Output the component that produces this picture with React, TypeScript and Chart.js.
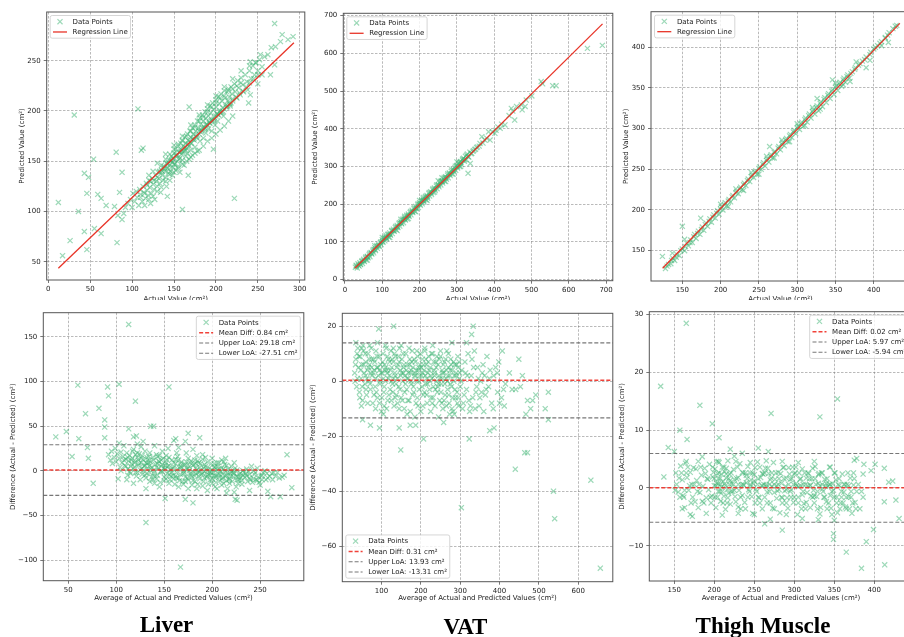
import React, { useEffect, useRef } from "react";
import { Chart, registerables } from "chart.js";
Chart.register(...registerables);

type Pt = [number, number];

// ---------------- DATA ----------------
const liverScatter: Pt[] = [
  [12,109],[17,56],[26,71],[31,196],[36,100],[43,138],[43,80],[46,118],[46,62],[48,134],[54,152],[55,83],[59,117],[63,113],[63,78],[69,106],[81,159],[82,69],[88,139],[85,119],[79,105],[88,92],[83,96],[90,98],[92,104],
  [107,202],[111,161],[113,163],[142,115],[160,102],[167,136],[168,204],[197,162],[222,113],[239,208],[241,216],[250,227],[255,236],[265,236],[270,246],[270,287],[279,276],[286,271],[292,274],[266,263],[271,264],[262,256],[253,256],[247,248],[241,249],[277,269],
  [95,108],[98,112],[100,104],[101,118],[103,110],[105,120],[106,114],[108,106],[109,122],[110,117],[112,110],[113,125],[114,119],[116,113],[117,128],[118,121],[119,116],[120,131],[121,124],[122,108],[123,118],[124,133],[125,127],[126,122],[127,112],[128,136],[129,130],[130,125],[131,139],[132,133],[133,128],[134,119],[135,141],[136,136],[137,131],[138,145],[139,140],[140,134],[141,148],[141,125],[142,143],[143,138],[144,151],[145,146],[145,131],[146,140],[147,155],[148,149],[148,136],[149,144],[150,158],[150,152],[151,147],[152,141],[152,162],[153,156],[154,150],[155,145],[155,165],[156,159],[157,153],[157,139],[158,168],[158,162],[159,157],[160,151],[160,171],[161,165],[162,160],[162,146],[163,174],[164,168],[164,155],[165,163],[166,177],[166,158],[167,171],[168,165],[168,152],[169,180],[170,174],[170,161],[171,168],[172,183],[172,156],[173,177],[174,171],[175,186],[175,164],[176,180],[177,174],[178,190],[178,160],[179,183],[180,177],[181,193],[181,170],[182,187],[183,180],[184,196],[185,190],[185,173],[186,184],[187,199],[188,193],[188,178],[189,187],[190,202],[191,195],[191,182],[192,189],[193,205],[194,198],[195,191],[195,180],[196,208],[197,201],[198,194],[199,186],[200,211],[200,204],[201,197],[202,190],[203,214],[204,207],[205,200],[206,217],[207,210],[208,203],[209,195],[210,220],[211,213],[212,206],[213,219],[214,210],[215,222],[216,214],[217,205],[218,224],[219,217],[220,210],[222,227],[223,219],[225,213],[226,230],[227,223],[229,216],[230,233],[232,226],[233,219],[235,236],[237,229],[238,221],[240,240],[242,232],[244,245],[246,236],[248,248],[250,240],[252,251],[255,244],[258,254],
  [110,114],[115,118],[118,126],[122,130],[126,131],[130,134],[133,140],[136,140],[139,143],[142,147],[144,142],[146,150],[148,153],[150,147],[152,155],[154,157],[156,152],[158,160],[160,160],[162,163],[164,161],[166,166],[168,170],[170,168],[172,172],[174,173],[176,174],[178,176],[180,180],[182,179],[184,183],[186,182],[188,186],[190,186],[192,188],[194,190],[196,190],[198,192],[200,195],[202,197],[204,199],[206,198],[208,200],[210,202],[212,204],[214,205],[216,207],[218,208],[220,212],[224,214],[228,218],[232,220],[236,224],[240,228],[245,232],[250,236],
  [140,152],[150,162],[160,170],[170,180],[180,190],[190,199],[200,208],[210,215],[220,222],[230,228],[135,146],[145,157],[155,167],[165,175],[175,184],[185,194],[195,204],[205,213],[215,220],[225,225]
];
const liverScatterCore: Pt[] = [
  [145,137],[150,139],[155,143],[160,147],[165,150],[170,154],[175,158],[180,161],[185,165],[190,170],[195,173],[200,177],[205,181],[210,185],[215,190],[220,195],[130,120],[135,124],[140,130],[125,115],[120,112],[115,106],
  [130,148],[140,157],[150,166],[160,175],[170,186],[180,196],[190,206],[200,215],[210,224],[220,232],[230,240],[240,245],[125,140],[120,136],
  [133,139],[137,143],[143,148],[147,151],[153,156],[157,159],[163,164],[167,167],[173,172],[177,175],[183,181],[187,183],[193,188],[197,191],[203,196],[207,199],[213,204],[217,207]
];
const liverRegX = [12, 293];
const liverRegY = [43.4, 267.9];

const vatScatter: Pt[] = [
  [690,621],[650,613],[566,514],[557,514],[530,519],[526,525],[501,487],[486,476],[483,459],[475,450],[473,463],[455,423],[446,454],[460,459],[330,282],[336,308],[389,370],[402,388],[416,401],[385,392],[367,379],[429,410],[362,361],
  [28,33],[30,38],[33,31],[35,42],[38,36],[40,45],[42,40],[45,48],[47,43],[50,54],[52,48],[55,57],[57,52],[60,62],[62,58],[65,66],[67,61],[70,72],[72,68],[75,76],[77,71],[80,85],[82,77],[85,88],[87,83],[90,94],[92,88],[95,98],[97,93],[100,106],[102,99],[105,109],[107,103],[110,114],[112,108],[115,119],[117,113],[120,124],[122,118],[125,129],[127,122],[130,134],[132,128],[135,138],[137,132],[140,144],[142,138],[145,148],[147,142],[150,154],[152,148],[155,158],[157,151],[160,164],[162,158],[165,168],[167,161],[170,174],[172,168],[175,178],[177,172],[180,184],[182,178],[185,188],[187,181],[190,194],[192,188],[195,198],[197,191],[200,204],[202,197],[205,208],[207,201],[210,214],[212,206],[215,218],[217,212],[220,223],[222,216],[225,228],[227,222],[230,233],[232,226],[235,238],[237,231],[240,243],[242,236],[245,248],[247,241],[250,252],[252,246],[255,257],[257,251],[260,262],[262,256],[265,267],[267,261],[270,273],[272,266],[275,277],[277,270],[280,283],[282,276],[285,287],[287,280],[290,293],[292,286],[295,297],[297,290],[300,303],[302,296],[305,308],[307,300],[310,313],[312,305],[315,317],[318,322],[320,314],[323,327],[325,318],[328,333],[332,325],[335,338],[340,335],[345,342],[350,346],[355,352],[360,354],[370,362],[375,370],[380,375],[395,392],[405,396],[410,405],[420,412],[440,435],[450,447],
  [31,36],[36,38],[41,41],[46,50],[51,50],[56,60],[61,60],[66,70],[71,70],[76,80],[81,80],[86,90],[91,90],[96,100],[101,101],[106,111],[111,110],[116,121],[121,120],[126,131],[131,130],[136,141],[141,140],[146,151],[151,150],[156,161],[161,160],[166,171],[171,170],[176,181],[181,180],[186,191],[191,190],[196,201],[201,200],[206,211],[211,210],[216,221],[221,220],[226,231],[231,230],[236,241],[241,240],[246,251],[251,250],[256,261],[261,260],[266,271],[271,270],[276,281],[281,280],[286,291],[291,290],[296,301],[301,300],[306,311],[311,310],[316,320],[321,318],[326,330],[330,326],[338,334],[343,340],[348,345],[353,350],
  [100,112],[150,160],[200,210],[250,262],[300,312],[120,112],[170,162],[220,210],[270,260],[310,300],[80,90],[60,52],[140,130],[190,180],[240,232],[290,280],[260,270],[210,218],[160,168],[110,118]
];
const vatRegX = [26.5, 690.5];
const vatRegY = [30.1, 677.9];

const thighScatter: Pt[] = [
  [124,143],[137,147],[150,180],[174,190],[153,164],[264,278],[326,337],[346,360],[390,375],[410,402],[419,406],[415,411],[395,384],[377,382],[369,358],
  [128,128],[132,133],[135,134],[138,140],[140,138],[143,145],[146,144],[150,152],[153,150],[156,159],[158,156],[161,163],[163,160],[166,170],[168,165],[171,174],[173,170],[176,179],[178,175],[181,184],[183,180],[186,189],[188,185],[191,194],[193,190],[196,199],[198,195],[201,204],[203,200],[206,209],[208,205],[211,213],[213,210],[216,218],[218,215],[221,223],[223,220],[226,228],[228,225],[231,233],[233,230],[236,238],[238,235],[241,243],[243,240],[246,248],[248,244],[251,253],[253,250],[256,258],[258,254],[261,263],[263,259],[266,268],[268,264],[271,272],[273,269],[276,278],[278,274],[281,283],[283,279],[286,288],[288,284],[291,293],[293,289],[296,298],[298,294],[301,303],[303,299],[306,308],[308,303],[311,313],[313,308],[316,318],[318,313],[321,323],[323,318],[326,328],[328,322],[331,333],[333,327],[336,338],[338,332],[341,343],[343,337],[346,348],[348,342],[351,353],[353,347],[356,357],[358,352],[361,362],[363,357],[366,366],[368,362],[372,370],[376,375],[380,378],[385,383],[390,388],[396,394],[400,398],[405,402],[410,407],[415,412],[420,418],[425,423],[430,427],
  [130,131],[136,138],[142,142],[148,150],[154,155],[160,160],[165,167],[170,171],[175,176],[180,182],[185,186],[190,191],[195,196],[200,201],[205,206],[210,211],[215,216],[220,221],[225,226],[230,231],[235,236],[240,241],[245,246],[250,251],[255,256],[260,261],[265,266],[270,271],[275,276],[280,281],[285,286],[290,291],[295,296],[300,301],[305,306],[310,311],[315,316],[320,321],[325,326],[330,331],[335,336],[340,341],[345,346],[350,351],[355,355],[360,360],[365,364],[370,368],[375,373],[382,380],[388,385],[395,391],[402,400],[408,405],[418,415],[428,426],
  [200,207],[220,226],[240,246],[260,266],[280,286],[300,306],[320,326],[210,204],[230,224],[250,244],[270,264],[290,284],[310,304],[330,324],[350,356],[360,354]
];
const thighRegX = [124.3, 434];
const thighRegY = [128.3, 429.5];

const liverBA: Pt[] = [
  [37,38],[48,44],[60,96],[54,16],[61,36],[68,64],[70,26],[71,14],[76,-14],[82,70],[88,57],[88,49],[88,37],[91,94],[92,84],[103,97],[103,31],[113,164],[120,78],[113,47],[121,39],[128,33],[136,50],[139,50],[155,94],[175,42],[187,37],[162,36],[131,-58],[167,-108],[131,-20],[151,-31],[172,-32],[180,-36],[118,-14],[224,-32],[226,-33],[239,-22],[258,-23],[261,-29],[271,-29],[283,-19],[278,18],[252,-10],[246,-10],[275,-5],[264,-2],[102,-9],[111,-10],[184,17],
  [92,18],[94,12],[95,22],[96,8],[98,15],[99,25],[100,10],[101,19],[103,14],[104,4],[105,21],[106,9],[107,16],[108,28],[109,6],[110,13],
  [111,20],[112,2],[113,11],[114,17],[115,-3],[116,8],[117,14],[118,24],[119,4],[120,10],[121,-6],[122,15],[123,6],[124,19],[125,1],[126,9],[127,-4],[128,13],[129,5],[130,22],[131,-8],[132,8],[133,2],[134,16],[135,-2],[136,10],[137,4],[138,-10],[139,12],[140,0],[141,7],[142,18],[143,-5],[144,3],[145,10],[146,-13],[147,5],[148,-1],[149,14],[150,-7],[151,2],[152,9],[153,-3],[154,25],[155,6],[156,-10],[157,1],[158,12],[159,-5],[160,4],[161,-15],[162,8],[163,-2],[164,16],[165,-8],[166,3],[167,-4],[168,10],[169,-12],[170,0],[171,6],[172,-7],[173,20],[174,2],[175,-10],[176,5],[177,-3],[178,11],[179,-16],[180,-1],[181,7],[182,-6],[183,3],[184,-20],[185,-2],[186,9],[187,-9],[188,1],[189,-4],[190,13],[191,-12],[192,-1],[193,5],[194,-7],[195,0],[196,-15],[197,3],[198,-5],[199,8],[200,-9],[201,-2],[202,4],[203,-18],[204,-6],[205,1],[206,-3],[207,9],[208,-11],[209,-1],[210,3],[211,-8],[212,-14],[213,0],[214,14],[215,-5],[216,-20],[217,2],[218,-9],[219,-3],[220,5],[221,-12],[222,-2],[223,-24],[225,-6],[226,1],[228,-10],[229,-3],[231,-15],[232,0],[234,-7],[236,2],[237,-12],[239,-4],[241,5],[243,-9],[245,-2],[247,3],[249,-13],[252,-5],[255,0],[258,-8],[262,-3],[266,-6],
  [118,38],[122,30],[126,27],[140,28],[148,22],[160,34],[165,26],[172,33],[180,24],[190,18],[200,14],[210,12],
  [110,5],[112,15],[114,-1],[116,12],[118,3],[120,18],[122,-2],[124,8],[126,14],[128,0],[130,6],[132,-3],[134,9],[136,2],[138,15],[140,-6],[142,4],[144,11],[146,-1],[148,7],[150,3],[152,-9],[154,5],[156,1],[158,-2],[160,9],[162,-6],[164,2],[166,-11],[168,4],[170,-3],[172,7],[174,-8],[176,0],[178,-5],[180,6],[182,-12],[184,1],[186,-6],[188,8],[190,-3],[192,-8],[194,2],[196,-4],[198,-10],[200,1],[202,-5],[204,-13],[206,5],[208,-4],[210,-9],[212,2],[214,-6],[216,-2],[218,-14],[220,-1],[222,-7],[224,3],[226,-10],[228,-4],[230,-8],[233,-2],[236,-6],[240,-10],[244,-4],[248,-7],[253,-2],[256,-10],[260,-6],[270,-8],
  [125,-10],[135,-12],[145,-18],[155,-14],[165,-18],[175,-20],[185,-15],[195,-22],[205,-20],[215,-25],[225,-18],[135,20],[145,17],[155,15],[165,12],[175,14],[185,11],[195,10],[205,9],[215,6],
  [105,0],[108,12],[112,-5],[117,22],[122,20],[127,17],[132,15],[137,-7],[142,-9],[147,12],[152,17],[157,-6],[162,13],[167,8],[172,-12],[177,9],[182,12],[187,4],[192,7],[197,-1],[202,8],[207,-7],[212,10],[217,-10],[222,0],[227,-14],[232,-5],[238,-1],[242,-13],[250,-16]
];
const liverBACore: Pt[] = [
  [115,5],[119,9],[123,12],[127,3],[131,9],[135,6],[139,-3],[143,8],[147,0],[151,6],[155,-4],[159,3],[163,-8],[167,5],[171,-2],[175,3],[179,-7],[183,-3],[187,-1],[191,3],[195,-6],[199,-2],[203,-8],[207,2],[211,-4],[215,-11],[219,-6],[223,-3],[227,-7],[231,-11],[235,-3],[239,-8],[243,0],[247,-11],[251,-6],[257,-3],[263,-10],[268,-2],[273,-7],
  [120,-2],[130,-5],[140,-14],[150,-11],[160,-9],[170,-15],[180,-11],[190,-17],[200,-14],[210,-16],[133,12],[143,16],[153,12],[163,20],[173,10],[183,8],[193,15],[203,4],[213,7],[223,9]
];
const liverStats = [0.84, 29.18, -27.51]; // mean diff, upper LoA, lower LoA

const vatBA: Pt[] = [
  [131,20],[93,19],[333,20],[329,17],[316,14],[149,-25],[207,-21],[323,-21],[303,-46],[440,-32],[464,-26],[471,-26],[537,-40],[540,-50],[632,-36],[656,-68],[375,-18],[386,-17],[449,8],[458,2],[441,-3],[453,-2],[471,-7],[484,-7],[492,-5],[479,-10],[467,-12],[516,-10],[524,-14],[524,-4],[398,7],[407,11],[400,-8],[412,-9],[52,-14],[72,-16],[95,-17],[145,-17],[173,-16],[187,-16],[258,-15],[107,-9],[35,14],[279,14],
  [32,3],[35,8],[37,-2],[40,12],[42,5],[44,-4],[46,9],[48,1],[50,6],[52,-7],[54,11],[56,3],[58,-1],[60,7],[62,-5],[64,4],[66,10],[68,0],[70,6],[72,-3],[74,12],[76,2],[78,-8],[80,8],[82,4],[84,-2],[86,11],[88,5],[90,-6],[92,2],[94,9],[96,-1],[98,6],[100,-11],
  [102,3],[104,10],[106,-4],[108,6],[110,0],[112,12],[114,4],[116,-7],[118,8],[120,2],[122,-3],[124,11],[126,5],[128,-1],[130,7],[132,-9],[134,3],[136,9],[138,-5],[140,1],[142,6],[144,-2],[146,12],[148,4],[150,-6],[152,8],[154,0],[156,5],[158,-10],[160,2],[162,10],[164,-3],[166,6],[168,1],[170,-7],[172,8],[174,3],[176,-1],[178,11],[180,5],[182,-4],[184,2],[186,7],[188,-8],[190,0],[192,9],[194,4],[196,-3],[198,6],[200,-11],
  [202,2],[204,8],[206,-5],[208,4],[210,11],[212,-1],[214,6],[216,-8],[218,3],[220,9],[222,-3],[224,5],[226,-6],[228,1],[230,10],[232,-2],[234,4],[236,-9],[238,7],[240,0],[242,-4],[244,6],[246,2],[248,-7],[250,9],[252,-1],[254,4],[256,-10],[258,3],[260,7],[262,-5],[264,1],[266,11],[268,-3],[270,5],[272,-8],[274,2],[276,8],[278,-2],[280,4],[282,-11],[284,0],[286,6],[288,-6],[290,3],[292,-4],[294,9],[296,-9],[298,1],[300,-2],
  [304,4],[308,-8],[312,7],[316,-3],[320,10],[324,-11],[328,2],[332,-6],[336,11],[340,-4],[344,5],[348,-9],[352,0],[356,3],[360,-11],[364,-5],[368,9],[372,-2],[376,4],[380,-8],[385,2],[390,5],[395,-4],[405,-6],[415,-1],[425,3],[432,-3],
  [60,2],[75,5],[85,1],[95,4],[105,1],[115,3],[125,0],[135,2],[145,7],[155,3],[165,1],[175,4],[185,3],[195,0],[205,3],[215,1],[225,2],[235,3],[245,-1],[255,1],[265,4],[275,-1],[285,2],[295,5],
  [34,6],[39,1],[43,9],[47,4],[51,-2],[55,6],[59,10],[63,1],[67,5],[71,-1],[75,8],[79,3],[83,7],[87,-4],[91,5],[95,-8],[99,3],[103,7],[107,-2],[111,5],[115,9],[119,-5],[123,4],[127,8],[131,1],[135,-6],[139,5],[143,9],[147,-3],[151,3],[155,10],[159,-4],[163,4],[167,-7],[171,6],[175,0],[179,-5],[183,8],[187,2],[191,-6],[195,5],[199,10],[203,-2],[207,6],[211,2],[215,-5],[219,7],[223,0],[227,10],[231,-6],[235,2],[239,5],[243,-2],[247,8],[251,-4],[255,3],[259,-7],[263,8],[267,0],[271,-5],[275,4],[279,-10],[283,7],[287,-3],[291,6],[295,-6],[299,3],
  [310,-5],[318,2],[326,-9],[334,5],[342,-2],[350,-6],[358,6],[366,-3],[374,1],[384,-10],[394,3],[410,-3],
  [45,-6],[65,-8],[85,-10],[105,-12],[125,-7],[145,-10],[165,-12],[185,-13],[205,-9],[225,-11],[245,-13],[265,-9],[285,-12],
  [50,12],[70,13],[90,14],[110,13],[130,12],[150,13],[170,12],[190,11],[210,12],[230,13],[250,11],[270,10]
];
const vatBACore: Pt[] = [
  [33,0],[38,10],[49,-9],[53,13],[61,-3],[69,8],[73,3],[81,-5],[89,9],[97,0],[101,-6],[109,4],[113,-10],[117,1],[121,7],[129,-4],[133,10],[137,-1],[141,-8],[149,2],[153,-7],[157,6],[161,-1],[169,3],[173,-11],[177,7],[181,-2],[189,4],[193,-9],[197,2],[201,5],[209,-4],[213,8],[217,-1],[221,4],[229,-8],[233,7],[237,-3],[241,9],[249,1],[253,-8],[257,6],[261,-1],[269,2],[273,-12],[277,6],[281,-6],[289,2],[293,-8],[297,7],[302,0],[306,-10],[314,3],[322,-7],[330,8],[338,-10],[346,1],[354,-4],[362,2]
];
const vatStats = [0.31, 13.93, -13.31];

const thighBA: Pt[] = [
  [165,28.5],[133,17.6],[182,14.3],[157,10],[166,8.4],[197.5,11.1],[206,8.7],[271,12.9],[332,12.3],[354,15.4],[137,1.9],[142.5,7],[150,6.3],[365,-11.1],[384,-13.9],[413,-13.3],[390,-9.3],[349,-7.9],[349,-8.9],[285,-7.3],[263,-6.2],[163,-3.4],[172.5,-4.9],[399,-7.2],[412.5,-2.4],[427,-2.1],[431,-5.3],[418,1],[423,1.2],[412.5,3.4],[401,4.1],[387,4.1],[378,5.1],[375,4.8],[386,2.4],[396,3],[220,6.7],[235,6],[255,6.9],[267.5,6.3],
  [152,2.6],[155,-0.7],[158,3.8],[160,1.4],[162,-1.6],[164,4.3],[166,1.8],[168,-0.4],[170,2.7],[172,0.6],[174,3.5],[176,-2.4],[178,1.3],[180,4.6],[182,-0.8],[184,2.2],[186,0.3],[188,3.4],[190,-1.7],[192,1.5],[194,4.1],[196,-2.6],[198,1.9],[200,0.4],[201,3.3],[202,-3.4],[203,0.8],[204,2.5],[205,-0.6],[206,4.4],[207,1.6],[208,-2.3],[209,0.2],[210,3.6],[211,1.2],[212,-1.4],[213,2.8],[214,-3.7],[215,1.7],[216,-0.3],[217,4.7],[218,-0.9],[219,2.4],[220,-2.8],[222,0.7],[224,3.2],[226,-1.5],[228,1.6],[230,-3.3],[232,4.2],[234,0.5],[236,2.6],[238,-2.5],[240,0.9],[242,3.7],[244,-0.6],[246,1.4],[248,-4.4],[250,2.3],[252,-0.2],[254,4.5],[256,-1.7],[258,1.8],[260,-3.6],[262,0.6],[264,3.4],[266,-0.7],[268,2.5],[270,-2.6],[272,0.3],[274,4.4],[276,1.5],[278,-1.8],[280,2.7],[282,-4.3],[284,0.8],[286,3.5],[288,-0.5],[290,1.7],[292,-3.5],[294,2.4],[296,-0.3],[298,3.6],[300,-1.6],[302,0.7],[304,-4.6],[306,2.6],[308,0.4],[310,3.3],[312,-2.7],[314,0.6],[316,-0.8],[318,2.5],[320,-3.4],[322,1.6],[324,-0.4],[326,3.7],[328,-1.5],[330,0.8],[332,-4.5],[334,2.6],[336,-0.6],[338,1.5],[340,-2.4],[342,0.3],[344,3.6],[346,-3.5],[348,0.7],[350,-1.6],[352,1.4],[354,-4.3],[356,0.4],[358,-2.6],[360,2.4],[362,-0.7],[364,-3.3],[366,0.6],[368,-1.5],[370,1.7],[372,-4.4],[374,0.5],[376,-2.5],
  [200,1.6],[205,0.7],[210,-0.6],[215,2.4],[220,1.3],[225,-0.4],[230,1.8],[235,-1.3],[240,2.2],[245,0.4],[250,1.2],[255,-1.6],[260,2.5],[265,0.3],[270,1.4],[275,-0.8],[280,0.6],[285,-1.7],[290,-0.3],[295,1.5],[300,2.4],[305,0.2],[310,-1.2],[315,1.7],[320,0.5],[325,-1.4],[330,2.3],[335,-0.2],[340,0.8],[345,-1.3],
  [151,-0.4],[156,1.7],[161,-1.3],[165,2.6],[169,0.4],[173,-1.6],[177,3.3],[181,0.6],[185,-2.3],[189,2.5],[193,-0.3],[197,-1.4],[199,2.7],[201,-1.6],[203,4.6],[205,1.6],[207,-0.6],[209,2.4],[211,-2.6],[213,0.7],[215,3.4],[217,-1.7],[219,0.6],[221,2.6],[223,-0.6],[225,1.5],[227,-2.4],[229,3.6],[231,-0.4],[233,-1.6],[235,2.7],[237,0.5],[239,-3.6],[241,1.6],[243,-0.3],[245,2.6],[247,-1.5],[249,0.7],[251,3.5],[253,-0.6],[255,1.6],[257,-2.6],[259,0.4],[261,2.4],[263,-1.6],[265,0.6],[267,3.4],[269,-0.6],[271,1.7],[273,-3.5],[275,0.6],[277,2.6],[279,-0.5],[281,-0.3],[283,2.5],[285,-2.6],[287,1.6],[289,0.3],[291,-1.7],[293,3.5],[295,-0.6],[297,1.6],[299,-2.5],[301,2.6],[303,0.4],[305,-1.6],[307,1.5],[309,-3.6],[311,0.6],[313,2.6],[315,-2.5],[317,0.4],[319,1.6],[321,-1.4],[323,3.4],[325,-2.6],[327,0.6],[329,-0.6],[331,2.5],[333,-3.4],[335,0.6],[337,-1.6],[339,0.3],[341,1.6],[343,-2.6],[345,0.6],[347,-4.6],[349,-0.4],[351,2.6],[353,-1.6],[355,0.6],[357,-3.6],[359,-0.6],[361,-2.6],[363,0.6],[365,-1.6],[367,2.6],[369,-3.6],[371,-0.6],[373,-2.6],[375,1.6],[378,-0.6],[382,-3.6],[386,-1.6],
  [160,-3.6],[170,-4.6],[180,-3.4],[190,-4.4],[210,-4.7],[230,-4.4],[250,-4.6],[270,-5.4],[290,-4.6],[310,-5.3],[330,-5.5],[350,-5.6],[165,4.6],[185,5.4],[205,4.6],[225,5.5],[245,4.4],[265,4.7],[285,4.6],[305,4.4],[325,4.6],[345,3.6]
];
const thighBACore: Pt[] = [
  [153,0.6],[157,-1.6],[159,2.6],[163,-0.4],[167,3.6],[171,-2.6],[175,0.6],[179,-0.6],[183,3.6],[187,-2.6],[191,1.6],[195,-1.6],[198,3.6],[202,0.4],[204,-1.6],[206,2.6],[208,0.6],[212,3.6],[214,0.4],[216,-2.6],[218,1.6],[221,-0.6],[224,0.6],[227,4.6],[230,0.6],[233,-3.6],[236,0.6],[239,2.6],[242,-1.6],[245,0.6],[248,2.6],[251,-2.6],[254,0.6],[257,3.6],[260,0.4],[263,2.6],[266,-2.6],[269,0.6],[272,2.6],[275,-3.6],[278,0.4],[281,1.6],[284,-1.6],[287,3.6],[290,-2.6],[293,0.6],[296,-1.6],[299,0.6],[302,3.6],[305,-2.6],[308,1.6],[311,-0.6],[314,-3.6],[317,2.6],[320,0.4],[323,-1.6],[326,1.6],[329,-3.6],[332,0.4],[335,2.6],[338,-1.6],[341,-3.6],[344,0.6],[347,-0.6],[350,2.6],[353,-2.6],[356,1.6],[359,-1.6],[362,0.6],[365,-3.6],[368,0.4],[371,-1.6],[374,2.6],[377,-3.6],[380,0.6],[384,-0.6]
];
const thighStats = [0.02, 5.97, -5.94];

// tick values
const liverScatterXTicks = [0, 50, 100, 150, 200, 250, 300];
const liverScatterYTicks = [50, 100, 150, 200, 250];
const vatScatterXTicks = [0, 100, 200, 300, 400, 500, 600, 700];
const vatScatterYTicks = [0, 100, 200, 300, 400, 500, 600, 700];
const thighScatterXTicks = [150, 200, 250, 300, 350, 400];
const thighScatterYTicks = [150, 200, 250, 300, 350, 400];
const liverBAXTicks = [50, 100, 150, 200, 250];
const liverBAYTicks = [-100, -50, 0, 50, 100, 150];
const vatBAXTicks = [100, 200, 300, 400, 500, 600];
const vatBAYTicks = [-60, -40, -20, 0, 20];
const thighBAXTicks = [150, 200, 250, 300, 350, 400];
const thighBAYTicks = [-10, 0, 10, 20, 30];

const panelTitles = ["Liver", "VAT", "Thigh Muscle"];

// ---------------- STYLE ----------------
const FS = 7;
const FONT = "'DejaVu Sans', sans-serif";
const TXT = "#222";
const GRID = "rgba(110,110,110,0.6)";
const SPINE = "#555";
const GREEN = "rgba(60,179,113,0.5)";
const REG_RED = "rgb(232,52,40)";
const MEAN_RED = "rgba(240,45,35,0.9)";
const LOA_GRAY = "rgba(95,95,95,0.85)";
const MARKER_R = 3.6;
const MARKER_W = 1.2;

type Layout = {
  wrap: { x: number; y: number; w: number; h: number };
  canvas: { w: number; h: number };
  plot: { l: number; r: number; t: number; b: number };
  yTitleX: number;
  xTitleY: number;
};
type LineSpec = { xs: number[]; ys: number[]; color: string; width: number; dash: number[]; label: string };
type AxisSpec = { min: number; max: number; ticks: number[]; title: string };
type Spec = {
  layout: Layout;
  x: AxisSpec;
  y: AxisSpec;
  points: Pt[];
  lines: LineSpec[];
  legendAnchor: "ul" | "ur" | "ll";
};

function regLine(xs: number[], ys: number[]): LineSpec {
  return { xs, ys, color: REG_RED, width: 1.3, dash: [], label: "Regression Line" };
}
function baLines(stats: number[], xmin: number, xmax: number): LineSpec[] {
  const f = (v: number) => v.toFixed(2) + " cm\u00b2";
  return [
    { xs: [xmin, xmax], ys: [stats[0], stats[0]], color: MEAN_RED, width: 1.5, dash: [4, 2], label: "Mean Diff: " + f(stats[0]) },
    { xs: [xmin, xmax], ys: [stats[1], stats[1]], color: LOA_GRAY, width: 1.1, dash: [4, 2], label: "Upper LoA: " + f(stats[1]) },
    { xs: [xmin, xmax], ys: [stats[2], stats[2]], color: LOA_GRAY, width: 1.1, dash: [4, 2], label: "Lower LoA: " + f(stats[2]) },
  ];
}

const SCAT_X = "Actual Value (cm\u00b2)";
const SCAT_Y = "Predicted Value (cm\u00b2)";
const BA_X = "Average of Actual and Predicted Values (cm\u00b2)";
const BA_Y = "Difference (Actual - Predicted) (cm\u00b2)";

const panels: Spec[] = [
  {
    layout: { wrap: { x: 0, y: 0, w: 310, h: 300 }, canvas: { w: 310, h: 312 }, plot: { l: 46.7, r: 305.7, t: 12, b: 280 }, yTitleX: 22, xTitleY: 299.5 },
    x: { min: -1.9, max: 306, ticks: liverScatterXTicks, title: SCAT_X },
    y: { min: 31.8, max: 298.5, ticks: liverScatterYTicks, title: SCAT_Y },
    points: [...liverScatter, ...liverScatterCore], lines: [regLine(liverRegX, liverRegY)], legendAnchor: "ul",
  },
  {
    layout: { wrap: { x: 310, y: 0, w: 308, h: 300 }, canvas: { w: 308, h: 312 }, plot: { l: 343.3, r: 616, t: 13.3, b: 280.7 }, yTitleX: 315, xTitleY: 299.5 },
    x: { min: -4.4, max: 718, ticks: vatScatterXTicks, title: SCAT_X },
    y: { min: -2.7, max: 706, ticks: vatScatterYTicks, title: SCAT_Y },
    points: vatScatter, lines: [regLine(vatRegX, vatRegY)], legendAnchor: "ul",
  },
  {
    layout: { wrap: { x: 618, y: 0, w: 286, h: 300 }, canvas: { w: 300, h: 312 }, plot: { l: 651, r: 910.1, t: 11.7, b: 281 }, yTitleX: 626, xTitleY: 299.5 },
    x: { min: 109.1, max: 447.4, ticks: thighScatterXTicks, title: SCAT_X },
    y: { min: 112.7, max: 443.8, ticks: thighScatterYTicks, title: SCAT_Y },
    points: thighScatter, lines: [regLine(thighRegX, thighRegY)], legendAnchor: "ul",
  },
  {
    layout: { wrap: { x: 0, y: 300, w: 309, h: 337 }, canvas: { w: 309, h: 337 }, plot: { l: 43.3, r: 304, t: 312.7, b: 580.7 }, yTitleX: 12.7, xTitleY: 597.7 },
    x: { min: 24, max: 295.5, ticks: liverBAXTicks, title: BA_X },
    y: { min: -123.2, max: 177.2, ticks: liverBAYTicks, title: BA_Y },
    points: [...liverBA, ...liverBACore], lines: baLines(liverStats, 24, 295.5), legendAnchor: "ur",
  },
  {
    layout: { wrap: { x: 309, y: 300, w: 309, h: 337 }, canvas: { w: 309, h: 337 }, plot: { l: 342.3, r: 616.7, t: 313.3, b: 581.7 }, yTitleX: 313.3, xTitleY: 598.3 },
    x: { min: 0.5, max: 687.7, ticks: vatBAXTicks, title: BA_X },
    y: { min: -72.9, max: 24.7, ticks: vatBAYTicks, title: BA_Y },
    points: [...vatBA, ...vatBACore], lines: baLines(vatStats, 0.5, 687.7), legendAnchor: "ll",
  },
  {
    layout: { wrap: { x: 618, y: 300, w: 286, h: 337 }, canvas: { w: 300, h: 337 }, plot: { l: 649.3, r: 912.7, t: 311.7, b: 581 }, yTitleX: 622.3, xTitleY: 598.3 },
    x: { min: 118.8, max: 448, ticks: thighBAXTicks, title: BA_X },
    y: { min: -16.1, max: 30.5, ticks: thighBAYTicks, title: BA_Y },
    points: [...thighBA, ...thighBACore], lines: baLines(thighStats, 118.8, 448), legendAnchor: "ur",
  },
];

// ---------------- DRAW HELPERS ----------------
function drawX(ctx: CanvasRenderingContext2D, x: number, y: number, r: number, color: string) {
  const o = r * Math.SQRT1_2;
  ctx.save();
  ctx.strokeStyle = color;
  ctx.lineWidth = MARKER_W;
  ctx.setLineDash([]);
  ctx.beginPath();
  ctx.moveTo(x - o, y - o); ctx.lineTo(x + o, y + o);
  ctx.moveTo(x - o, y + o); ctx.lineTo(x + o, y - o);
  ctx.stroke();
  ctx.restore();
}

function makeFramePlugin(spec: Spec) {
  return {
    id: "mplFrame",
    afterDatasetsDraw(chart: any) {
      const { ctx, chartArea: a } = chart;
      ctx.save();
      ctx.strokeStyle = SPINE;
      ctx.lineWidth = 1;
      ctx.setLineDash([]);
      ctx.strokeRect(a.left, a.top, a.right - a.left, a.bottom - a.top);
      ctx.restore();
    },
    afterDraw(chart: any) {
      const { ctx, chartArea: a } = chart;
      const items: { kind: "marker" | "line"; label: string; color: string; width?: number; dash?: number[] }[] = [
        { kind: "marker", label: "Data Points", color: GREEN },
        ...spec.lines.map((l) => ({ kind: "line" as const, label: l.label, color: l.color, width: l.width, dash: l.dash })),
      ];
      ctx.save();
      ctx.font = `${FS}px ${FONT}`;
      const textW = Math.max(...items.map((i) => ctx.measureText(i.label).width));
      const pad = 0.4 * FS, hl = 2 * FS, htp = 0.8 * FS, bap = 0.5 * FS, rowH = 0.97 * FS, ls = 0.5 * FS;
      const w = pad * 2 + hl + htp + textW;
      const h = pad * 2 + items.length * rowH + (items.length - 1) * ls;
      const x = spec.legendAnchor === "ur" ? a.right - bap - w : a.left + bap;
      const y = spec.legendAnchor === "ll" ? a.bottom - bap - h : a.top + bap;
      ctx.beginPath();
      const rr = 2;
      ctx.moveTo(x + rr, y);
      ctx.lineTo(x + w - rr, y); ctx.arcTo(x + w, y, x + w, y + rr, rr);
      ctx.lineTo(x + w, y + h - rr); ctx.arcTo(x + w, y + h, x + w - rr, y + h, rr);
      ctx.lineTo(x + rr, y + h); ctx.arcTo(x, y + h, x, y + h - rr, rr);
      ctx.lineTo(x, y + rr); ctx.arcTo(x, y, x + rr, y, rr);
      ctx.closePath();
      ctx.fillStyle = "rgba(255,255,255,0.8)";
      ctx.fill();
      ctx.strokeStyle = "#cccccc";
      ctx.lineWidth = 0.8;
      ctx.stroke();
      items.forEach((it, i) => {
        const cy = y + pad + rowH / 2 + i * (rowH + ls);
        const hx0 = x + pad, hx1 = hx0 + hl;
        if (it.kind === "marker") {
          drawX(ctx, (hx0 + hx1) / 2, cy, MARKER_R, it.color);
        } else {
          ctx.save();
          ctx.strokeStyle = it.color;
          ctx.lineWidth = it.width || 1;
          ctx.setLineDash(it.dash || []);
          ctx.beginPath();
          ctx.moveTo(hx0, cy); ctx.lineTo(hx1, cy);
          ctx.stroke();
          ctx.restore();
        }
        ctx.fillStyle = TXT;
        ctx.textAlign = "left";
        ctx.textBaseline = "middle";
        ctx.fillText(it.label, hx1 + htp, cy + 0.3);
      });
      ctx.restore();
    },
  };
}

const fmt = (v: any) => String(v).replace("-", "\u2212");

function buildConfig(spec: Spec): any {
  const L = spec.layout;
  const lh = FS * 1.2;
  const yScaleLeft = L.yTitleX - lh / 2;
  const xScaleBottom = L.xTitleY + lh / 2;
  const padding = {
    left: yScaleLeft - L.wrap.x,
    top: L.plot.t - L.wrap.y,
    right: L.wrap.x + L.canvas.w - L.plot.r,
    bottom: L.wrap.y + L.canvas.h - xScaleBottom,
  };
  const yW = L.plot.l - yScaleLeft;
  const xH = xScaleBottom - L.plot.b;
  const font = { size: FS, family: FONT };
  const axis = (a: AxisSpec, horizontal: boolean) => ({
    type: "linear",
    min: a.min,
    max: a.max,
    afterBuildTicks: (s: any) => {
      s.ticks = a.ticks.map((v) => ({ value: v }));
    },
    afterFit: (s: any) => {
      if (horizontal) s.height = xH; else s.width = yW;
    },
    ticks: {
      autoSkip: false, maxRotation: 0, minRotation: 0,
      padding: horizontal ? 2 : 3, color: TXT, font, callback: fmt,
    },
    grid: { color: GRID, lineWidth: 0.8, drawTicks: true, tickLength: 3, tickColor: SPINE, tickWidth: 0.8 },
    border: { display: false, dash: [2.5, 1.5] },
    title: { display: true, text: a.title, color: TXT, font, padding: 0 },
  });
  const datasets: any[] = [
    ...spec.lines.map((l) => ({
      label: l.label,
      data: l.xs.map((x, i) => ({ x, y: l.ys[i] })),
      showLine: true,
      borderColor: l.color,
      borderWidth: l.width,
      borderDash: l.dash,
      pointRadius: 0,
      fill: false,
      clip: 0,
    })),
    {
      label: "Data Points",
      data: spec.points.map(([x, y]) => ({ x, y })),
      pointStyle: "crossRot",
      pointRadius: MARKER_R,
      pointBorderWidth: MARKER_W,
      borderWidth: MARKER_W,
      borderColor: GREEN,
      backgroundColor: GREEN,
      showLine: false,
      clip: 0,
    },
  ];
  return {
    type: "scatter",
    data: { datasets },
    options: {
      responsive: false,
      animation: false,
      devicePixelRatio: 1,
      events: [],
      layout: { padding },
      plugins: { legend: { display: false }, tooltip: { enabled: false } },
      scales: { x: axis(spec.x, true), y: axis(spec.y, false) },
    },
    plugins: [makeFramePlugin(spec)],
  };
}

function Panel({ spec }: { spec: Spec }) {
  const ref = useRef<HTMLCanvasElement>(null);
  useEffect(() => {
    const chart = new Chart(ref.current as HTMLCanvasElement, buildConfig(spec));
    return () => chart.destroy();
  }, [spec]);
  const { wrap, canvas } = spec.layout;
  return (
    <div style={{ position: "absolute", left: wrap.x, top: wrap.y, width: wrap.w, height: wrap.h, overflow: "hidden" }}>
      <canvas
        ref={ref}
        width={canvas.w}
        height={canvas.h}
        style={{ position: "absolute", left: 0, top: 0, width: canvas.w, height: canvas.h }}
      />
    </div>
  );
}

const titlePos = [
  { cx: 166.5, baseline: 632.6 },
  { cx: 465.5, baseline: 634.5 },
  { cx: 763, baseline: 633 },
];

export default function App() {
  return (
    <div style={{ position: "absolute", left: 0, top: 0, width: 904, height: 637, background: "#fff", overflow: "hidden" }}>
      {panels.map((p, i) => (
        <Panel key={i} spec={p} />
      ))}
      {panelTitles.map((t, i) => (
        <div
          key={t}
          style={{
            position: "absolute",
            left: titlePos[i].cx,
            top: titlePos[i].baseline - 19.26,
            transform: "translateX(-50%)",
            font: "bold 23px 'Liberation Serif', 'Times New Roman', serif",
            lineHeight: "23px",
            whiteSpace: "nowrap",
            color: "#000",
          }}
        >
          {t}
        </div>
      ))}
    </div>
  );
}
